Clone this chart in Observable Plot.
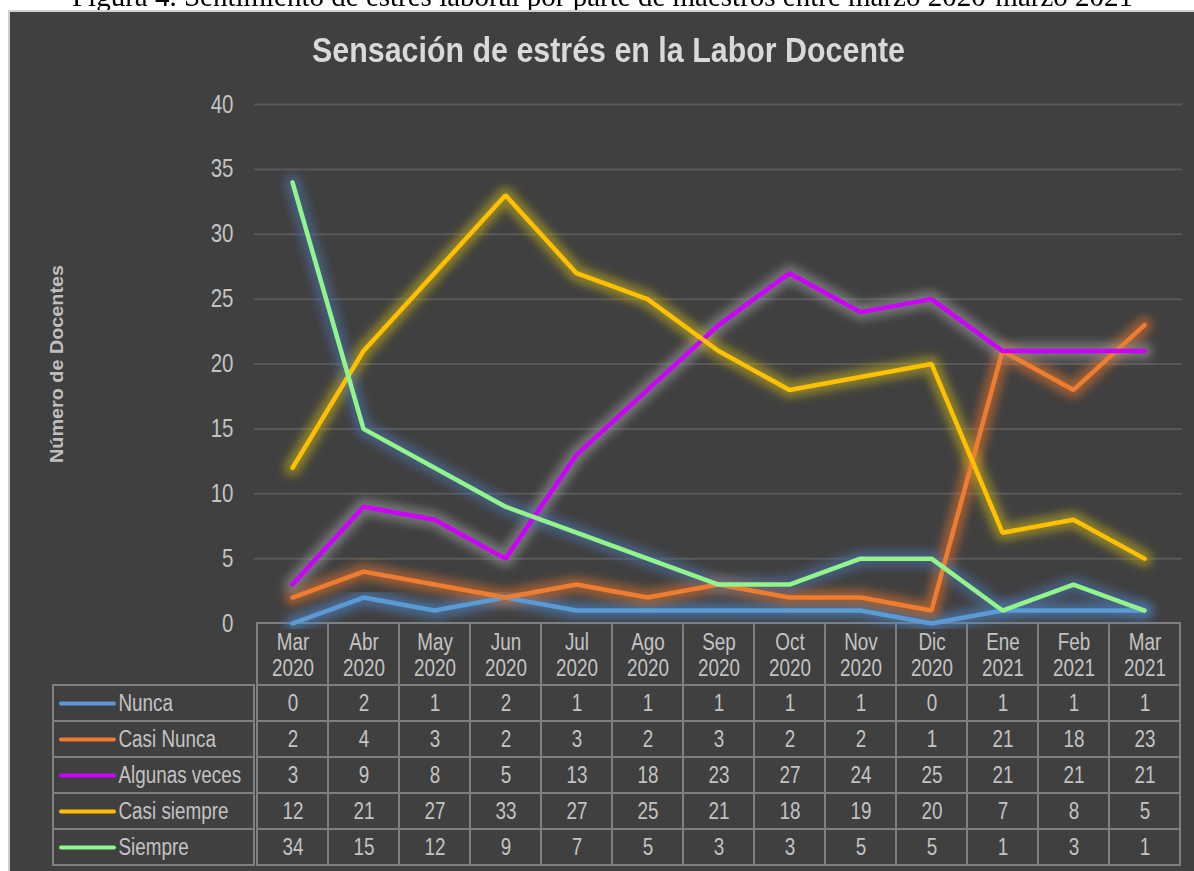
<!DOCTYPE html>
<html>
<head>
<meta charset="utf-8">
<script src="https://cdn.jsdelivr.net/npm/d3@7"></script>
<script src="https://cdn.jsdelivr.net/npm/@observablehq/plot@0.6"></script>
<style>
  html, body { margin: 0; padding: 0; background: #ffffff; width: 1194px; height: 871px; overflow: hidden; position: relative; }
  .abs { position: absolute; }
  #caption { left: 72px; top: -18px; font-family: "Liberation Serif", "DejaVu Serif", serif; font-size: 29px; line-height: 1; color: #000; white-space: nowrap; transform-origin: 0 0; }
  #panel { left: 8px; top: 10px; width: 1200px; height: 880px; background: #404040; border: 2px solid #cfcfcf; box-sizing: border-box; }
  #title { left: 312px; top: 32px; font-family: "Liberation Sans", Arial, sans-serif; font-weight: bold; font-size: 35px; line-height: 1; color: #d9d9d9; white-space: nowrap; transform-origin: 0 0; }
  #ylabel { left: 0px; top: 0px; font-family: "Liberation Sans", Arial, sans-serif; font-weight: bold; font-size: 19px; line-height: 1; color: #bfbfbf; white-space: nowrap; transform-origin: 0 0; }
  svg { overflow: visible; }
</style>
</head>
<body>
<div id="caption" class="abs">Figura 4. Sentimiento de estrés laboral por parte de maestros entre marzo 2020-marzo 2021</div>
<div id="panel" class="abs"></div>
<div id="title" class="abs">Sensación de estrés en la Labor Docente</div>
<div id="ylabel" class="abs">Número de Docentes</div>
<script>
// ---- data ----
const months = ["Mar 2020","Abr 2020","May 2020","Jun 2020","Jul 2020","Ago 2020","Sep 2020","Oct 2020","Nov 2020","Dic 2020","Ene 2021","Feb 2021","Mar 2021"];
const series = ["Nunca","Casi Nunca","Algunas veces","Casi siempre","Siempre"];
const nunca        = [0, 2, 1, 2, 1, 1, 1, 1, 1, 0, 1, 1, 1];
const casiNunca    = [2, 4, 3, 2, 3, 2, 3, 2, 2, 1, 21, 18, 23];
const algunasVeces = [3, 9, 8, 5, 13, 18, 23, 27, 24, 25, 21, 21, 21];
const casiSiempre  = [12, 21, 27, 33, 27, 25, 21, 18, 19, 20, 7, 8, 5];
const siempre      = [34, 15, 12, 9, 7, 5, 3, 3, 5, 5, 1, 3, 1];
const yTicks = [0, 5, 10, 15, 20, 25, 30, 35, 40];
const gridTicks = [5, 10, 15, 20, 25, 30, 35, 40];

const colors = ["#5b9bd5", "#ed7d31", "#cc00ff", "#ffc000", "#92f58c"];
const glowColors = ["#4f86c6", "#d9712c", "#9a9a9a", "#bfae1a", "#4b6fa8"];

const valuesBySeries = [nunca, casiNunca, algunasVeces, casiSiempre, siempre];
const rows = [];
series.forEach((s, si) => months.forEach((m, mi) => rows.push({series: s, month: m, value: valuesBySeries[si][mi]})));

const FONT = '"Liberation Sans", Arial, sans-serif';
const NARROW = 0.82;
const TXT = "#c3c3c3";
const BORDER = "#7f7f7f";

function narrowText(svg) {
  d3.select(svg).selectAll("text").each(function () {
    const t = this.getAttribute("transform");
    if (t && t.includes("translate")) this.setAttribute("transform", t + ` scale(${NARROW},1)`);
  });
}

function place(svg, left, top) {
  svg.style.position = "absolute";
  svg.style.left = left + "px";
  svg.style.top = top + "px";
  svg.style.maxWidth = "none";
  svg.style.background = "transparent";
  svg.style.overflow = "visible";
  narrowText(svg);
  document.body.appendChild(svg);
  return svg;
}

// ---- table header ----
const header = Plot.plot({
  width: 930, height: 64,
  marginLeft: 1, marginRight: 1, marginTop: 1, marginBottom: 1,
  style: {fontFamily: FONT, background: "transparent"},
  x: {type: "band", domain: months, padding: 0, axis: null},
  marks: [
    Plot.cell(months, {x: d => d, fill: "none", stroke: BORDER, strokeWidth: 2}),
    Plot.text(months, {x: d => d, text: d => d.replace(" ", "\n"), fill: TXT, fontSize: 23, lineHeight: 1.12, frameAnchor: "middle"})
  ]
});
place(header, 253, 622);

// ---- table body: values ----
const body = Plot.plot({
  width: 930, height: 182,
  marginLeft: 1, marginRight: 1, marginTop: 1, marginBottom: 1,
  style: {fontFamily: FONT, background: "transparent"},
  x: {type: "band", domain: months, padding: 0, axis: null},
  y: {type: "band", domain: series, padding: 0, axis: null},
  marks: [
    Plot.cell(rows, {x: "month", y: "series", fill: "none", stroke: BORDER, strokeWidth: 2}),
    Plot.text(rows, {x: "month", y: "series", text: d => String(d.value), fill: TXT, fontSize: 23})
  ]
});
place(body, 253, 684);

// ---- table body: legend column ----
const legend = Plot.plot({
  width: 203, height: 182,
  marginLeft: 1, marginRight: 1, marginTop: 1, marginBottom: 1,
  style: {fontFamily: FONT, background: "transparent"},
  y: {type: "band", domain: series, padding: 0, axis: null},
  color: {domain: series, range: colors},
  marks: [
    Plot.cell(series, {y: d => d, fill: "none", stroke: BORDER, strokeWidth: 2}),
    Plot.ruleY(series, {y: d => d, stroke: d => d, strokeWidth: 4, strokeLinecap: "round", insetLeft: 8, insetRight: 140}),
    Plot.text(series, {y: d => d, text: d => d, frameAnchor: "left", dx: 65, textAnchor: "start", fill: TXT, fontSize: 23})
  ]
});
place(legend, 52, 684);

// ---- line chart ----
const glowMarks = series.map((s, i) => Plot.line(rows.filter(d => d.series === s), {
  x: "month", y: "value", stroke: glowColors[i], strokeWidth: 16, strokeOpacity: 0.6, strokeLinejoin: "round", strokeLinecap: "round"
}));
const lineMarks = series.map((s, i) => Plot.line(rows.filter(d => d.series === s), {
  x: "month", y: "value", stroke: colors[i], strokeWidth: 4.5, strokeLinejoin: "miter", strokeLinecap: "round"
}));

const chart = Plot.plot({
  width: 1194, height: 550,
  marginLeft: 254, marginRight: 12, marginTop: 14, marginBottom: 17,
  style: {fontFamily: FONT, background: "transparent"},
  x: {type: "point", domain: months, padding: 0.5, axis: null},
  y: {domain: [0, 40], axis: null},
  marks: [
    Plot.ruleY(gridTicks, {stroke: "#585858", strokeWidth: 2}),
    Plot.axisY(yTicks, {tickSize: 0, tickPadding: 21, fontSize: 25, color: TXT, label: null}),
    ...glowMarks,
    ...lineMarks
  ]
});
place(chart, 0, 90);

// apply a blur filter to the glow lines
const svgSel = d3.select(chart);
const defs = svgSel.insert("defs", ":first-child");
defs.append("filter").attr("id", "glowBlur").attr("x", "-20%").attr("y", "-20%").attr("width", "140%").attr("height", "140%")
  .append("feGaussianBlur").attr("stdDeviation", 5);
svgSel.selectAll('g[aria-label="line"]').filter((d, i) => i < series.length).attr("filter", "url(#glowBlur)");

// ---- fit HTML texts to the reference widths ----
function fitWidth(el, target) {
  const w = el.getBoundingClientRect().width;
  return target / w;
}
const cap = document.getElementById("caption");
cap.style.transform = `scaleX(${fitWidth(cap, 1061)})`;
const title = document.getElementById("title");
title.style.transform = `scaleX(${fitWidth(title, 593)})`;
const yl = document.getElementById("ylabel");
const ylw = yl.getBoundingClientRect().width, ylh = yl.getBoundingClientRect().height;
const sy = 198 / ylw;
// rotate -90deg, centered at (56, 364)
yl.style.transform = `translate(${56 - ylh / 2}px, ${364 + 99}px) rotate(-90deg) scaleX(${sy})`;
</script>
</body>
</html>
